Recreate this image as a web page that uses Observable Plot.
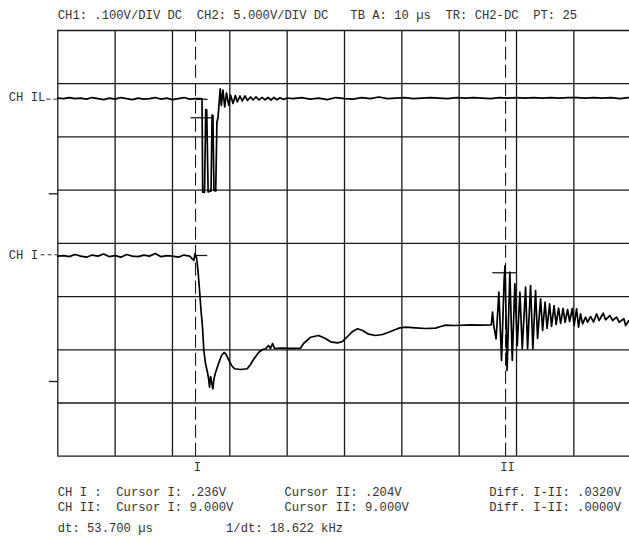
<!DOCTYPE html>
<html><head><meta charset="utf-8">
<script src="https://cdn.jsdelivr.net/npm/d3@7"></script>
<script src="https://cdn.jsdelivr.net/npm/@observablehq/plot@0.6"></script>
<style>
html,body{margin:0;padding:0;background:#fff;overflow:hidden;}
#chart svg text{white-space:pre;}
</style></head><body><div id="chart"></div>
<script>
// ---- graticule (time in µs, amplitude in divisions) ----
const gridTimes = [0, 10, 20, 30, 40, 50, 60, 70, 80, 90, 100];
const gridDivs = [0, 1, 2, 3, 4, 5, 6, 7, 8];

// ---- CH IL trace (upper) ----
const ilTime = [
  0,1,2,3,4,5,6,7,8,9,10,11,12,13,14,15,16,17,18,19,20,21,22,23,24,25,
  25.15,25.27,25.59,25.80,25.97,26.22,26.46,26.72,26.91,27.05,27.23,27.54,27.75,27.94,28.12,28.33,
  28.52,28.80,29.11,29.43,29.81,30.12,30.56,30.96,31.31,31.78,32.16,32.65,33.09,33.61,34.05,34.57,
  35.10,35.62,36.14,36.67,37.19,37.71,38.23,38.76,39.37,39.98,
  41,42.5,44,45.5,47,48.5,50,51.5,53,54.5,56,57.5,59,60.5,62,63.5,65,66.5,68,69.5,
  71,72.5,74,75.5,77,78.5,80,81.5,83,84.5,86,87.5,89,90.5,92,93.5,95,96.5,98,99.5,100
];
const ilValue = [
  6.73,6.72,6.74,6.72,6.73,6.71,6.74,6.72,6.70,6.73,6.71,6.74,6.72,6.70,6.73,6.71,6.72,6.74,6.71,6.73,6.70,6.72,6.74,6.71,6.72,6.72,
  6.717,4.961,4.956,6.516,6.506,4.965,4.975,4.984,6.412,6.403,4.993,4.984,6.277,6.365,6.619,6.905,
  6.591,6.882,6.563,6.826,6.591,6.788,6.628,6.779,6.657,6.769,6.675,6.769,6.685,6.751,6.694,6.751,
  6.694,6.745,6.698,6.741,6.694,6.741,6.698,6.737,6.704,6.732,
  6.72,6.74,6.71,6.73,6.70,6.74,6.72,6.71,6.74,6.72,6.75,6.72,6.73,6.74,6.72,6.73,6.74,6.73,6.72,6.74,
  6.73,6.74,6.73,6.72,6.74,6.73,6.74,6.73,6.74,6.73,6.74,6.73,6.74,6.74,6.73,6.74,6.73,6.74,6.72,6.74,6.73
];

// ---- CH I trace (lower) ----
const iTime = [
  0,1,2,3,4,5,6,7,8,9,10,11,12,13,14,15,16,17,18,19,20,21,22,23,
  23.72,23.93,24.19,24.45,24.72,24.98,25.24,25.47,25.76,26.11,26.29,26.46,26.64,26.81,27.04,27.25,27.51,
  28.03,28.55,28.99,29.30,29.78,30.30,30.82,31.87,33.04,33.61,34.14,35.01,35.71,36.23,36.75,37.10,37.45,
  37.80,38.84,40.59,42.33,42.86,44.09,45.47,46.69,47.57,48.79,49.66,50.71,51.41,52.28,53.15,54.19,55.41,
  56.64,58.03,59.43,60.65,62.39,64.14,65.88,66.76,67.63,69.37,71.99,73.73,75.60,
  75.82,76.05,76.44,76.92,77.39,77.83,78.00,78.35,78.84,79.26,79.71,80.13,80.59,81.00,81.58,81.93,
  82.45,82.85,83.32,83.67,84.20,84.55,84.98,85.33,85.77,86.11,86.55,86.90,87.34,87.69,88.12,88.47,
  88.91,89.26,89.73,90.04,90.48,90.82,91.17,91.52,92.05,92.40,92.92,93.44,93.97,94.40,95.13,95.53,
  96.28,96.76,97.45,97.89,98.73,99.02,99.60,100
];
const iValue = [
  3.76,3.77,3.75,3.79,3.76,3.74,3.78,3.76,3.80,3.75,3.77,3.74,3.79,3.76,3.75,3.78,3.76,3.81,3.75,3.77,3.76,3.74,3.78,3.76,
  3.678,3.809,3.734,3.490,3.114,2.738,2.419,1.986,1.742,1.573,1.460,1.297,1.498,1.404,1.267,1.460,1.573,
  1.742,1.892,1.949,1.924,1.817,1.705,1.643,1.629,1.643,1.723,1.817,1.949,2.005,2.018,2.080,2.024,2.118,
  2.024,2.033,2.028,2.030,2.118,2.236,2.268,2.212,2.150,2.131,2.156,2.268,2.344,2.394,2.362,2.293,2.268,
  2.287,2.344,2.406,2.424,2.413,2.400,2.406,2.438,2.462,2.456,2.469,2.462,2.469,
  2.706,2.438,2.206,3.082,1.799,3.302,3.584,1.611,3.458,1.799,3.240,2.080,3.082,2.018,3.176,2.018,
  3.208,2.018,3.114,2.212,2.958,2.362,2.894,2.400,2.864,2.438,2.832,2.475,2.785,2.494,2.776,2.513,
  2.757,2.531,2.776,2.456,2.770,2.424,2.676,2.488,2.612,2.518,2.625,2.522,2.676,2.550,2.687,2.563,
  2.644,2.550,2.612,2.518,2.582,2.456,2.550,2.531
];

// ---- cursors ----
const cursorTimes = [24.02, 78.09];
const cursorLabels = ["I", "II"];
const markerStart = [23.15, 24.02, 24.02, 75.77];
const markerEnd = [27.21, 26.12, 26.06, 80.01];
const markerLevel = [6.36, 6.707, 3.772, 3.447];

// ---- channel labels / ground references ----
const channelNames = ["CH IL", "CH I"];
const channelLabelLevels = [6.75, 3.785];
const channelPointerLevels = [6.71, 3.785];
const channelPointerStart = [-2.0, -3.0];
const groundLevels = [4.931, 1.404];

// ---- texts ----
const headerText = "CH1: .100V/DIV DC  CH2: 5.000V/DIV DC   TB A: 10 µs  TR: CH2-DC  PT: 25";
const readoutLines = [
  "CH I :  Cursor I: .236V        Cursor II: .204V            Diff. I-II: .0320V",
  "CH II:  Cursor I: 9.000V       Cursor II: 9.000V           Diff. I-II: .0000V",
  "dt: 53.700 µs          1/dt: 18.622 kHz"
];
const readoutLevels = [-0.682, -0.964, -1.36];

// ---- build tables ----
const ilData = ilTime.map((t, i) => ({t, v: ilValue[i]}));
const iData = iTime.map((t, i) => ({t, v: iValue[i]}));
const markers = markerStart.map((s, i) => ({x1: s, x2: markerEnd[i], y: markerLevel[i]}));
const cursors = cursorTimes.map((t, i) => ({t, label: cursorLabels[i]}));
const channels = channelNames.map((n, i) => ({n, y: channelLabelLevels[i], py: channelPointerLevels[i], px: channelPointerStart[i]}));
const readouts = readoutLines.map((s, i) => ({s, y: readoutLevels[i]}));

const ink = "#1a1a1a";
const font = "Liberation Mono, Courier New, monospace";

const chart = Plot.plot({
  width: 629,
  height: 536,
  marginLeft: 57.3,
  marginRight: -1.7,
  marginTop: 30,
  marginBottom: 80.3,
  style: {background: "#fff", fontFamily: font, fontSize: "12.2px", overflow: "visible"},
  x: {domain: [0, 100], range: [57.3, 630.7], axis: null},
  y: {domain: [0, 8], range: [455.7, 30], axis: null},
  marks: [
    Plot.ruleX(gridTimes, {x: d => d, y1: 0, y2: 8, stroke: ink, strokeWidth: 1.3}),
    Plot.ruleY(gridDivs, {y: d => d, x1: 0, x2: 100, stroke: ink, strokeWidth: 1.3}),
    Plot.ruleX(cursors, {x: "t", y1: 0, y2: 8, stroke: ink, strokeWidth: 1.1, strokeDasharray: "13,5"}),
    Plot.link(markers, {x1: "x1", x2: "x2", y1: "y", y2: "y", stroke: ink, strokeWidth: 1.3}),
    Plot.link(groundLevels, {x1: -1.57, x2: 0, y1: d => d, y2: d => d, stroke: ink, strokeWidth: 1.3}),
    Plot.link(channels, {x1: "px", x2: 0, y1: "py", y2: "py", stroke: "#333", strokeWidth: 1, strokeDasharray: "4,3"}),
    Plot.line(ilData, {x: "t", y: "v", stroke: "#000", strokeWidth: 1.7, curve: "linear"}),
    Plot.line(iData, {x: "t", y: "v", stroke: "#000", strokeWidth: 1.7, curve: "linear"}),
    Plot.text(channels, {x: -8.55, y: "y", text: "n", textAnchor: "start", fill: "#333", fontSize: 12.2}),
    Plot.text(cursors, {x: "t", y: -0.203, text: "label", textAnchor: "middle", dx: 2, fill: "#333", fontSize: 12.2}),
    Plot.text([headerText], {x: 0, y: 8.282, text: d => d, textAnchor: "start", fill: "#333", fontSize: 12.2}),
    Plot.text(readouts, {x: 0, y: "y", text: "s", textAnchor: "start", fill: "#333", fontSize: 12.2})
  ]
});
document.getElementById("chart").appendChild(chart);
</script></body></html>
